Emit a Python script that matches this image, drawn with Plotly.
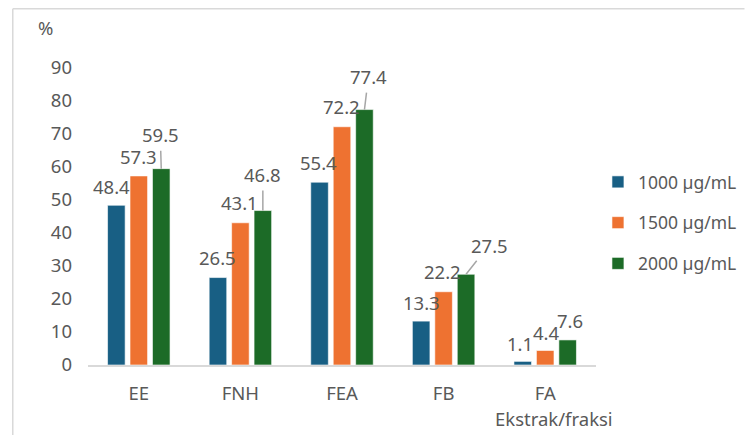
import plotly.graph_objects as go

categories = ["EE", "FNH", "FEA", "FB", "FA"]
series_names = ["1000 µg/mL", "1500 µg/mL", "2000 µg/mL"]
v1000 = [48.4, 26.5, 55.4, 13.3, 1.1]
v1500 = [57.3, 43.1, 72.2, 22.2, 4.4]
v2000 = [59.5, 46.8, 77.4, 27.5, 7.6]
y_ticks = [0, 10, 20, 30, 40, 50, 60, 70, 80, 90]
x_title = "Ekstrak/fraksi"
y_title = "%"

colors = ["#185F84", "#EE7231", "#1C6B27"]
font_family = "Noto Sans"
txt_color = "#595959"
FS = 18.5

bargap = 0.337
slot = (1 - bargap) / 3

# label placement (pixels): (xshift, yshift, leader_ax, leader_ay) ; leader None = plain label
label_style = {
    0: [(-5, 19, None, None), (0, 20, None, None), (-1, 20, None, None), (0, 19, None, None), (-3, 18, None, None)],
    1: [(0, 19, None, None), (-1, 20, None, None), (-1, 20, None, None), (-1, 20, None, None), (1, 18, None, None)],
    2: [(0, 0, -1, -34), (0, 0, 0, -36), (0, 0, 4, -33), (0, 0, 23, -29), (2, 19, None, None)],
}

all_vals = [v1000, v1500, v2000]

fig = go.Figure()
for k, (name, vals) in enumerate(zip(series_names, all_vals)):
    fig.add_trace(go.Bar(
        x=categories, y=vals, name=name, legendgroup=name,
        marker=dict(color=colors[k], line=dict(color="rgba(255,255,255,0.6)", width=1)),
        hoverinfo="x+y+name",
    ))

annotations = []
for k, vals in enumerate(all_vals):
    for i, v in enumerate(vals):
        xs, ys, ax, ay = label_style[k][i]
        xpos = i + (k - 1) * slot
        if ax is None:
            annotations.append(dict(
                x=xpos, y=v, xref="x", yref="y", text=f"{v}", showarrow=False,
                xshift=xs, yshift=ys, yanchor="middle", xanchor="center",
                font=dict(family=font_family, size=FS, color=txt_color),
            ))
        else:
            annotations.append(dict(
                x=xpos, y=v, xref="x", yref="y", text=f"{v}", showarrow=True,
                arrowhead=0, arrowwidth=1.5, arrowcolor="#A6A6A6", ax=ax, ay=ay,
                standoff=0, startstandoff=2,
                font=dict(family=font_family, size=FS, color=txt_color),
            ))

# page body adds an 8px margin, so figure coordinates = screen coordinates - 8
OFF = 8
W, H = 754 - OFF, 435 - OFF
L, T = 88 - OFF, 68 - OFF
B = H - (365 - OFF)
R = W - (608 - OFF)
pw, ph = W - L - R, H - T - B

def px_x(p):
    return (p - OFF - L) / pw

def px_y(p):
    return (H - B - (p - OFF)) / ph

annotations.append(dict(
    x=px_x(44), y=px_y(28), xref="paper", yref="paper", text=y_title, showarrow=False,
    xanchor="center", yanchor="middle", font=dict(family=font_family, size=FS, color=txt_color),
))
annotations.append(dict(
    x=px_x(565), y=px_y(418), xref="paper", yref="paper", text=x_title, showarrow=False,
    xanchor="center", yanchor="middle", font=dict(family=font_family, size=FS, color=txt_color),
))

shapes = [
    dict(type="line", xref="paper", yref="paper", x0=px_x(11), x1=px_x(11), y0=px_y(8.7), y1=px_y(440),
         line=dict(color="#D9D9D9", width=1.5)),
    dict(type="line", xref="paper", yref="paper", x0=px_x(11), x1=px_x(760), y0=px_y(8.7), y1=px_y(8.7),
         line=dict(color="#D9D9D9", width=1.5)),
]

fig.update_layout(
    width=W, height=H,
    margin=dict(l=L, r=R, t=T, b=B),
    paper_bgcolor="white", plot_bgcolor="white",
    barmode="group", bargap=bargap, bargroupgap=0.217,
    font=dict(family=font_family, size=FS, color=txt_color),
    showlegend=True,
    legend=dict(x=px_x(610), y=px_y(223), xanchor="left", yanchor="middle",
                font=dict(family=font_family, size=17.5, color=txt_color),
                tracegroupgap=15, bgcolor="rgba(0,0,0,0)", borderwidth=0),
    annotations=annotations,
    shapes=shapes,
    xaxis=dict(type="category", showline=True, linecolor="#D9D9D9", linewidth=1.5,
               showgrid=False, zeroline=False, ticks="", ticklabelstandoff=11,
               tickfont=dict(family=font_family, size=FS, color=txt_color)),
    yaxis=dict(range=[0, 90], tickvals=y_ticks, showline=False, showgrid=False, zeroline=False,
               ticks="", ticklabelstandoff=15,
               tickfont=dict(family=font_family, size=FS, color=txt_color)),
)

fig.write_html("out.html")
